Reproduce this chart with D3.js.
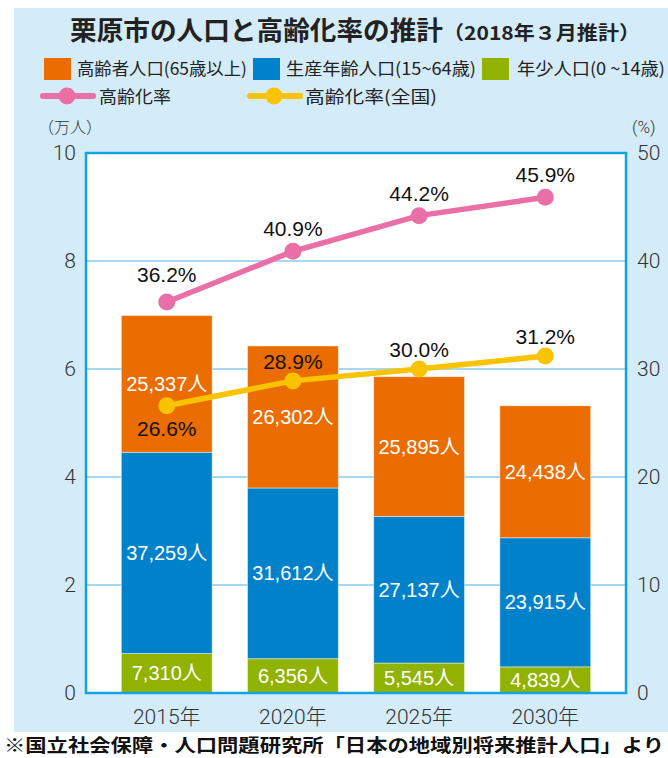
<!DOCTYPE html>
<html><head><meta charset="utf-8">
<script src="https://cdn.jsdelivr.net/npm/d3@7"></script>
<style>html,body{margin:0;padding:0;background:#fff;}svg{display:block;}</style>
</head><body>
<script>
// ---- data ----
const years = ["2015年", "2020年", "2025年", "2030年"];
const elderly = [25337, 26302, 25895, 24438];   // 高齢者人口(65歳以上)
const working = [37259, 31612, 27137, 23915];   // 生産年齢人口(15~64歳)
const young   = [7310, 6356, 5545, 4839];       // 年少人口(0~14歳)
const agingRate = [36.2, 40.9, 44.2, 45.9];     // 高齢化率
const agingRateNational = [26.6, 28.9, 30.0, 31.2]; // 高齢化率(全国)
const leftTicks = [0, 2, 4, 6, 8, 10];
const rightTicks = [0, 10, 20, 30, 40, 50];

const W = 668, H = 758;
const JP = "'Noto Sans CJK JP', 'Noto Sans', sans-serif";
const NUM = "'Liberation Sans', Arial, 'Noto Sans CJK JP', sans-serif";
const LIGHT = "Roboto, 'Noto Sans CJK JP', sans-serif";
const C = {bg:"#d4ebf8", orange:"#eb6c00", blue:"#0082cb", green:"#92b200", pink:"#e96fa6", yellow:"#f9c300", frame:"#12a3e4", grid:"#4fb4e4", text:"#333"};

const svg = d3.select("body").append("svg").attr("width", W).attr("height", H);
svg.append("rect").attr("x", 14).attr("y", 8).attr("width", W - 14).attr("height", 724).attr("fill", C.bg);

// title
const title = svg.append("text").attr("y", 40).attr("font-family", JP).attr("font-weight", "bold").attr("fill", "#222");
title.append("tspan").attr("x", 70).attr("font-size", 26).attr("textLength", 373).attr("lengthAdjust", "spacingAndGlyphs").text("栗原市の人口と高齢化率の推計");
title.append("tspan").attr("x", 443).attr("font-size", 19).attr("textLength", 197).attr("lengthAdjust", "spacingAndGlyphs").text("（2018年３月推計）");

// legend
const legBars = [
  {c: C.orange, t: "高齢者人口(65歳以上)", x: 44, tx: 77, tw: 170},
  {c: C.blue, t: "生産年齢人口(15~64歳)", x: 253, tx: 286, tw: 190},
  {c: C.green, t: "年少人口(0 ~14歳)", x: 482, tx: 517, tw: 148}
];
legBars.forEach(d => {
  svg.append("rect").attr("x", d.x).attr("y", 58).attr("width", 27).attr("height", 22).attr("fill", d.c);
  svg.append("text").attr("x", d.tx).attr("y", 75).attr("font-family", JP).attr("font-size", 17)
    .attr("fill", "#222").attr("textLength", d.tw).attr("lengthAdjust", "spacingAndGlyphs").text(d.t);
});
const legLines = [
  {c: C.pink, t: "高齢化率", x: 43, tx: 99, tw: 72},
  {c: C.yellow, t: "高齢化率(全国)", x: 250, tx: 305, tw: 132}
];
legLines.forEach(d => {
  svg.append("line").attr("x1", d.x).attr("x2", d.x + 50).attr("y1", 96).attr("y2", 96).attr("stroke", d.c).attr("stroke-width", 6).attr("stroke-linecap", "round");
  svg.append("circle").attr("cx", d.x + 24).attr("cy", 96).attr("r", 8.5).attr("fill", d.c);
  svg.append("text").attr("x", d.tx).attr("y", 103).attr("font-family", JP).attr("font-size", 17)
    .attr("fill", "#222").attr("textLength", d.tw).attr("lengthAdjust", "spacingAndGlyphs").text(d.t);
});

// scales
const L = 86, R = 626, T = 153, B = 693;
const x = d3.scaleBand().domain(years).range([L, R]).paddingInner(0.28).paddingOuter(0.28);
const y = d3.scaleLinear().domain([0, 10]).range([B, T]);
const yR = d3.scaleLinear().domain([0, 50]).range([B, T]);

svg.append("rect").attr("x", L).attr("y", T).attr("width", R - L).attr("height", B - T).attr("fill", "#fff");

// gridlines
svg.append("g").selectAll("line").data(leftTicks.filter(t => t > 0 && t < 10)).join("line")
  .attr("x1", L).attr("x2", R).attr("y1", d => y(d)).attr("y2", d => y(d))
  .attr("stroke", C.grid).attr("stroke-width", 1);

// stacked bars
const rows = years.map((yr, i) => ({year: yr, young: young[i] / 10000, working: working[i] / 10000, elderly: elderly[i] / 10000,
  raw: {young: young[i], working: working[i], elderly: elderly[i]}}));
const keys = ["young", "working", "elderly"];
const colors = {young: C.green, working: C.blue, elderly: C.orange};
const stack = d3.stack().keys(keys)(rows);
const fmt = d3.format(",");
stack.forEach(layer => {
  const g = svg.append("g");
  g.selectAll("rect").data(layer).join("rect")
    .attr("x", d => x(d.data.year)).attr("width", x.bandwidth())
    .attr("y", d => y(d[1])).attr("height", d => y(d[0]) - y(d[1]))
    .attr("fill", colors[layer.key]).attr("stroke", "rgba(255,255,255,0.45)").attr("stroke-width", 1);
});
stack.forEach(layer => {
  svg.append("g").selectAll("text").data(layer).join("text")
    .attr("x", d => x(d.data.year) + x.bandwidth() / 2)
    .attr("y", d => (y(d[0]) + y(d[1])) / 2 + 7)
    .attr("text-anchor", "middle").attr("font-family", NUM).attr("font-size", 20).attr("fill", "#fff")
    .text(d => fmt(d.data.raw[layer.key]) + "人");
});

// axes
const yAxisL = d3.axisLeft(y).tickValues(leftTicks).tickSize(0).tickPadding(10);
const gL = svg.append("g").attr("transform", `translate(${L},0)`).call(yAxisL);
const yAxisR = d3.axisRight(yR).tickValues(rightTicks).tickSize(0).tickPadding(11);
const gR = svg.append("g").attr("transform", `translate(${R},0)`).call(yAxisR);
const xAxis = d3.axisBottom(x).tickSize(0).tickPadding(13);
const gX = svg.append("g").attr("transform", `translate(0,${B})`).call(xAxis);
[gL, gR, gX].forEach(g => {
  g.select(".domain").remove();
  g.selectAll("text").attr("font-family", LIGHT).attr("font-weight", 300).attr("font-size", 21).attr("fill", C.text);
});
gX.selectAll("text").attr("font-size", 21).attr("dy", "0.85em");

svg.append("text").attr("x", 38).attr("y", 133).attr("font-family", JP).attr("font-weight", 300).attr("font-size", 16).attr("fill", C.text).text("（万人）");
svg.append("text").attr("x", 632).attr("y", 133).attr("font-family", LIGHT).attr("font-weight", 300).attr("font-size", 17).attr("fill", C.text).text("(%)");

// frame
svg.append("rect").attr("x", L).attr("y", T).attr("width", R - L).attr("height", B - T)
  .attr("fill", "none").attr("stroke", C.frame).attr("stroke-width", 2.5);

// lines
const cx = d => x(d) + x.bandwidth() / 2;
function drawLine(vals, color) {
  const pts = vals.map((v, i) => [cx(years[i]), yR(v)]);
  svg.append("path").attr("d", d3.line()(pts)).attr("fill", "none").attr("stroke", color).attr("stroke-width", 5.5);
  svg.append("g").selectAll("circle").data(pts).join("circle")
    .attr("cx", d => d[0]).attr("cy", d => d[1]).attr("r", 8.5).attr("fill", color);
  return pts;
}
const pPink = drawLine(agingRate, C.pink);
const pYel = drawLine(agingRateNational, C.yellow);

function labels(pts, vals, dyFn) {
  svg.append("g").selectAll("text").data(pts).join("text")
    .attr("x", d => d[0]).attr("y", (d, i) => d[1] + dyFn(i))
    .attr("text-anchor", "middle").attr("font-family", NUM).attr("font-size", 21).attr("fill", "#111")
    .text((d, i) => vals[i].toFixed(1) + "%");
}
labels(pPink, agingRate, i => i === 0 ? -20 : -15);
labels(pYel, agingRateNational, i => i === 0 ? 30 : -12);

// footnote
svg.append("text").attr("x", 4).attr("y", 752).attr("font-family", JP).attr("font-weight", "bold").attr("font-size", 18)
  .attr("fill", "#111").attr("textLength", 660).attr("lengthAdjust", "spacingAndGlyphs")
  .text("※国立社会保障・人口問題研究所「日本の地域別将来推計人口」より");
</script>
</body></html>
